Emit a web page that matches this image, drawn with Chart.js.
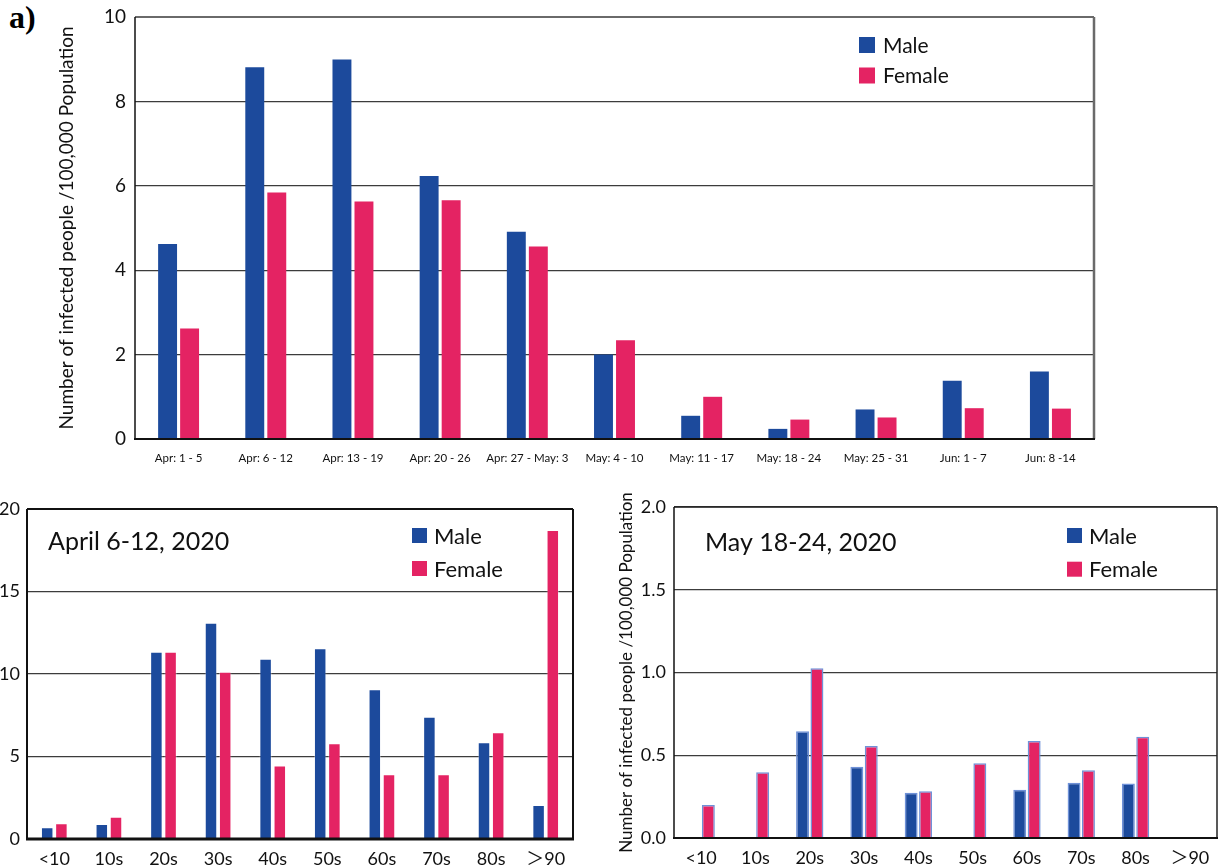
<!DOCTYPE html>
<html>
<head>
<meta charset="utf-8">
<script src="https://cdn.jsdelivr.net/npm/chart.js@4.4.0/dist/chart.umd.min.js"></script>
<style>
  body { margin:0; background:#fff; width:1229px; height:867px; position:relative; overflow:hidden; }
  .box { position:absolute; }
  #tag { position:absolute; left:9px; top:-1px; font:bold 32px "Liberation Serif", serif; color:#000; }
</style>
</head>
<body>
<div id="tag">a)</div>
<div class="box" style="left:0;top:0;width:1110px;height:475px"><canvas id="weekly"></canvas></div>
<div class="box" style="left:0;top:490px;width:590px;height:377px"><canvas id="april"></canvas></div>
<div class="box" style="left:600px;top:490px;width:629px;height:377px"><canvas id="may"></canvas></div>
<script>
// ============ DATA ============
const weeks = ['Apr: 1 - 5', 'Apr: 6 - 12', 'Apr: 13 - 19', 'Apr: 20 - 26', 'Apr: 27 - May: 3',
  'May: 4 - 10', 'May: 11 - 17', 'May: 18 - 24', 'May: 25 - 31', 'Jun: 1 - 7', 'Jun: 8 -14'];
const weeklyMale   = [4.62, 8.81, 8.99, 6.23, 4.91, 2.00, 0.55, 0.24, 0.70, 1.38, 1.60];
const weeklyFemale = [2.62, 5.84, 5.63, 5.66, 4.56, 2.34, 1.00, 0.46, 0.51, 0.73, 0.72];
const weeklyTicks  = [0, 2, 4, 6, 8, 10];

const ageGroups = ['<10', '10s', '20s', '30s', '40s', '50s', '60s', '70s', '80s', '＞90'];
const aprilMale   = [0.71, 0.91, 11.35, 13.11, 10.93, 11.56, 9.07, 7.41, 5.86, 2.06];
const aprilFemale = [0.95, 1.35, 11.35, 10.14, 4.46, 5.80, 3.92, 3.92, 6.47, 18.73];
const aprilTicks  = [0, 5, 10, 15, 20];

const mayMale   = [0, 0, 0.645, 0.43, 0.274, 0, 0.292, 0.334, 0.33, 0];
const mayFemale = [0.20, 0.397, 1.025, 0.556, 0.282, 0.451, 0.586, 0.409, 0.612, 0];
const mayTicks  = [0, 0.5, 1.0, 1.5, 2.0];

const yTitle = 'Number of infected people /100,000 Population';
const MALE = '#1c4a9c', FEMALE = '#e42363';
const FONT = 'Lato, "Noto Sans CJK JP", sans-serif';

// ============ PLUGINS ============
// box around the plot area, one colour/width per side
const framePlugin = {
  id: 'frame',
  afterDraw(chart, args, o) {
    const {left, right, top, bottom} = chart.chartArea;
    const ctx = chart.ctx;
    const side = (s, x1, y1, x2, y2) => {
      ctx.beginPath(); ctx.strokeStyle = s[0]; ctx.lineWidth = s[1];
      ctx.moveTo(x1, y1); ctx.lineTo(x2, y2); ctx.stroke();
    };
    ctx.save();
    side(o.top, left, top, right, top);
    side(o.right, right, top, right, bottom);
    side(o.left, left, top, left, bottom);
    side(o.bottom, left - 1, bottom, right + 1, bottom);
    ctx.restore();
  }
};

// square legend + panel caption placed inside the plot area
const boxLegendPlugin = {
  id: 'boxLegend',
  afterDraw(chart, args, o) {
    const ctx = chart.ctx, a = chart.chartArea;
    ctx.save();
    ctx.textBaseline = 'middle';
    ctx.textAlign = 'left';
    chart.data.datasets.forEach((ds, i) => {
      const x = a.left + o.x, y = a.top + o.y + i * o.step;
      ctx.fillStyle = ds.backgroundColor;
      ctx.fillRect(x, y, o.size, o.size);
      ctx.fillStyle = '#111';
      ctx.font = o.fontSize + 'px ' + FONT;
      ctx.fillText(ds.label, x + o.size + o.gap, y + o.size / 2 + 1);
    });
    if (o.caption) {
      ctx.fillStyle = '#111';
      ctx.textBaseline = 'alphabetic';
      ctx.font = o.captionSize + 'px ' + FONT;
      ctx.fillText(o.caption, a.left + o.captionX, a.top + o.captionY);
    }
    ctx.restore();
  }
};

function makeChart(id, cfg) {
  const ticksOnly = cfg.ticks;
  return new Chart(document.getElementById(id), {
    type: 'bar',
    data: {
      labels: cfg.labels,
      datasets: [
        { label: 'Male', data: cfg.male, backgroundColor: MALE, borderColor: cfg.border || MALE,
          borderWidth: cfg.borderWidth || 0, categoryPercentage: cfg.cat, barPercentage: cfg.bar },
        { label: 'Female', data: cfg.female, backgroundColor: FEMALE, borderColor: cfg.border || FEMALE,
          borderWidth: cfg.borderWidth || 0, categoryPercentage: cfg.cat, barPercentage: cfg.bar }
      ]
    },
    options: {
      responsive: true, maintainAspectRatio: false, animation: false, devicePixelRatio: 1,
      layout: { padding: { left: 0, top: cfg.padTop, right: cfg.padRight, bottom: 0 } },
      plugins: {
        legend: { display: false }, tooltip: { enabled: false },
        frame: cfg.frame,
        boxLegend: cfg.legend
      },
      scales: {
        x: {
          grid: { display: false, drawTicks: false },
          border: { display: false },
          ticks: { color: '#111', font: { family: FONT, size: cfg.xFont }, padding: cfg.xPad, maxRotation: 0, autoSkip: false },
          afterFit: s => { s.height = cfg.xHeight; }
        },
        y: {
          min: ticksOnly[0], max: ticksOnly[ticksOnly.length - 1],
          afterBuildTicks: s => { s.ticks = ticksOnly.map(v => ({ value: v })); },
          grid: { color: cfg.gridColor, lineWidth: 1.2, drawTicks: false },
          border: { display: false },
          ticks: { color: '#111', font: { family: FONT, size: cfg.yFont }, padding: cfg.yPad,
                   callback: v => cfg.decimals ? v.toFixed(1) : v },
          title: cfg.title ? { display: true, text: yTitle, color: '#111',
                   font: { family: FONT, size: cfg.title.size }, padding: cfg.title.pad } : { display: false },
          // fixed axis width; let layout padding alone set the plot top
          afterFit: s => { s.width = cfg.yWidth; s.paddingTop = 0; s.paddingBottom = 0; }
        }
      }
    },
    plugins: [framePlugin, boxLegendPlugin]
  });
}

// ============ WEEKLY (top) ============
makeChart('weekly', {
  labels: weeks, male: weeklyMale, female: weeklyFemale, ticks: weeklyTicks,
  cat: 0.505, bar: 0.86,
  padTop: 17, padRight: 16, yWidth: 135, xHeight: 36,
  xFont: 11.5, xPad: 12, yFont: 19, yPad: 9, gridColor: '#3c3c3c',
  title: { size: 19, pad: 55 },
  frame: { top: ['#6a6a6a', 2], right: ['#6a6a6a', 2.5], left: ['#111', 1.5], bottom: ['#111', 2] },
  legend: { x: 724, y: 20, step: 30.5, size: 16, gap: 8, fontSize: 21 }
});

// ============ APRIL 6-12 by age (bottom left) ============
makeChart('april', {
  labels: ageGroups, male: aprilMale, female: aprilFemale, ticks: aprilTicks,
  cat: 0.52, bar: 0.88, border: 'rgba(255,255,255,0.35)', borderWidth: 1,
  padTop: 19, padRight: 17, yWidth: 27, xHeight: 28,
  xFont: 18, xPad: 9, yFont: 18, yPad: 7, gridColor: '#3c3c3c',
  frame: { top: ['#111', 2], right: ['#111', 2], left: ['#111', 2], bottom: ['#111', 3] },
  legend: { x: 385, y: 19, step: 33, size: 15, gap: 7, fontSize: 22,
            caption: 'April 6-12, 2020', captionSize: 25, captionX: 21, captionY: 41 }
});

// ============ MAY 18-24 by age (bottom right) ============
makeChart('may', {
  labels: ageGroups, male: mayMale, female: mayFemale, ticks: mayTicks, decimals: true,
  cat: 0.53, bar: 0.9, border: '#6f91d8', borderWidth: 1.5,
  padTop: 17, padRight: 12, yWidth: 74, xHeight: 29,
  xFont: 18, xPad: 9, yFont: 18, yPad: 8, gridColor: '#3c3c3c',
  title: { size: 17, pad: 16 },
  frame: { top: ['#222', 1.5], right: ['#222', 1.5], left: ['#111', 1.5], bottom: ['#111', 2] },
  legend: { x: 393, y: 21, step: 33.7, size: 15, gap: 7, fontSize: 22,
            caption: 'May 18-24, 2020', captionSize: 25, captionX: 31, captionY: 44 }
});
</script>
</body>
</html>
